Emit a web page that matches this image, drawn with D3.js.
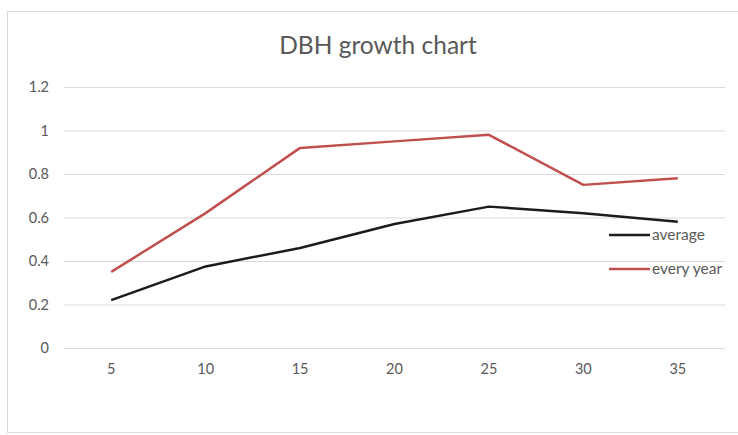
<!DOCTYPE html>
<html>
<head>
<meta charset="utf-8">
<script src="https://cdn.jsdelivr.net/npm/d3@7"></script>
<style>
  html, body { margin: 0; padding: 0; background: #fff; }
  svg { display: block; }
  text { font-family: Lato, "Open Sans", sans-serif; }
</style>
</head>
<body>
<svg id="chart" width="738" height="435"></svg>
<script>
// Age classes (years) along the x axis
const ages = ["5", "10", "15", "20", "25", "30", "35"];
// Mean annual DBH increment
const averageValues = [0.22, 0.375, 0.46, 0.57, 0.65, 0.62, 0.58];
// Current annual DBH increment
const everyYearValues = [0.35, 0.62, 0.92, 0.95, 0.98, 0.75, 0.78];
// Value-axis ticks
const yTicks = [0, 0.2, 0.4, 0.6, 0.8, 1, 1.2];
const seriesNames = ["average", "every year"];

const svg = d3.select("#chart");

// Chart frame
svg.append("rect")
  .attr("x", 7.5).attr("y", 11.5)
  .attr("width", 740).attr("height", 421)
  .attr("fill", "#fff").attr("stroke", "#d9d9d9").attr("stroke-width", 1);

// Title
svg.append("text")
  .attr("x", 378).attr("y", 54)
  .attr("text-anchor", "middle")
  .attr("font-size", 24.5)
  .attr("fill", "#595959")
  .text("DBH growth chart");

const plot = { left: 64, right: 725, top: 87, bottom: 348 };

const x = d3.scaleBand().domain(ages).range([plot.left, plot.right]);
const y = d3.scaleLinear().domain([0, 1.2]).range([plot.bottom, plot.top]);

// Horizontal gridlines with value labels
const yAxis = d3.axisLeft(y)
  .tickValues(yTicks)
  .tickSize(-(plot.right - plot.left))
  .tickPadding(15)
  .tickFormat(d => d3.format("~g")(d));

const gy = svg.append("g")
  .attr("transform", `translate(${plot.left},0)`)
  .call(yAxis);
gy.select(".domain").remove();
gy.selectAll(".tick line").attr("stroke", "#d9d9d9").attr("stroke-width", 1);
gy.selectAll(".tick text")
  .attr("fill", "#595959").attr("font-size", 14.5);

// Category labels
const xAxis = d3.axisBottom(x).tickSize(0).tickPadding(16);
const gx = svg.append("g")
  .attr("transform", `translate(0,${plot.bottom})`)
  .call(xAxis);
gx.select(".domain").remove();
gx.selectAll(".tick text")
  .attr("fill", "#595959").attr("font-size", 14.5);

const cx = d => x(d) + x.bandwidth() / 2;
const line = d3.line()
  .x((d, i) => cx(ages[i]))
  .y(d => y(d));

const series = [
  { name: seriesNames[0], values: averageValues, color: "#1c1c1c" },
  { name: seriesNames[1], values: everyYearValues, color: "#c0504d" }
];

svg.append("g").selectAll("path")
  .data(series)
  .join("path")
  .attr("d", d => line(d.values))
  .attr("fill", "none")
  .attr("stroke", d => d.color)
  .attr("stroke-width", 2.5)
  .attr("stroke-linejoin", "round");

// Legend on the right
const legend = svg.append("g").selectAll("g")
  .data(series)
  .join("g")
  .attr("transform", (d, i) => `translate(609,${235 + i * 34})`);
legend.append("line")
  .attr("x1", 0).attr("x2", 41)
  .attr("stroke", d => d.color)
  .attr("stroke-width", 2.5);
legend.append("text")
  .attr("x", 43).attr("y", 5)
  .attr("font-size", 15.5)
  .attr("fill", "#595959")
  .text(d => d.name);
</script>
</body>
</html>
